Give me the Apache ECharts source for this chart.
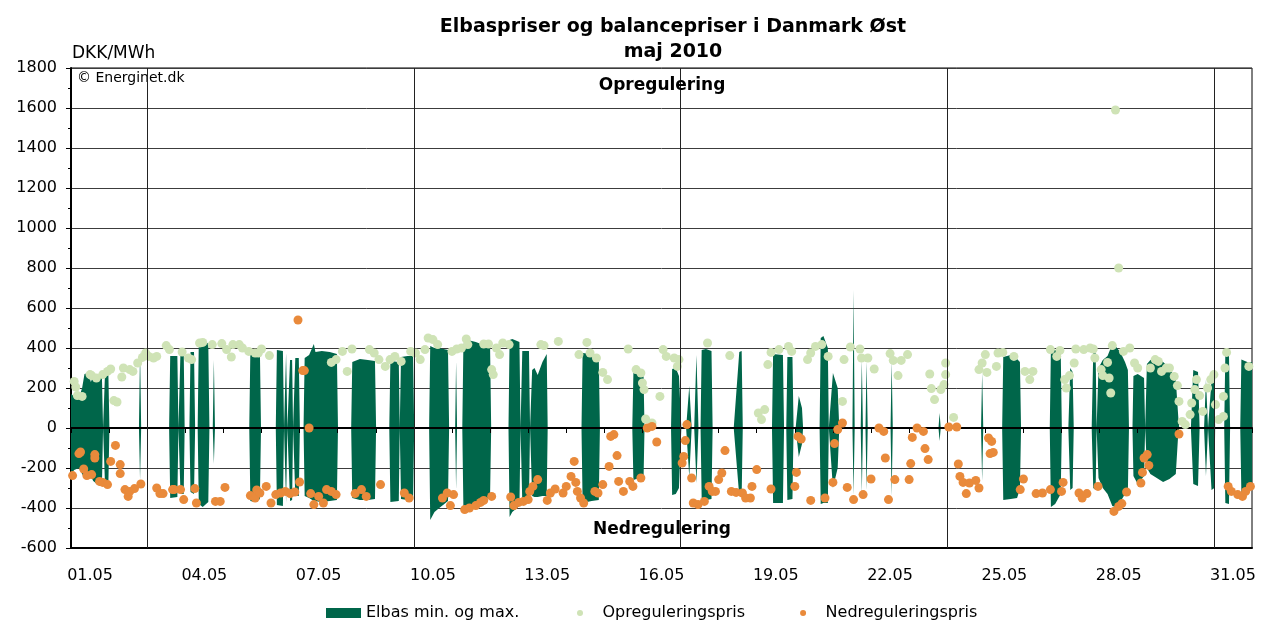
<!DOCTYPE html>
<html>
<head>
<meta charset="utf-8">
<title>Elbaspriser og balancepriser i Danmark Øst - maj 2010</title>
<script src="https://cdn.jsdelivr.net/npm/echarts@6.0.0/dist/echarts.min.js"></script>
<style>
  html, body { margin: 0; padding: 0; background: #fff; }
  #chart { width: 1262px; height: 626px; }
</style>
</head>
<body>
<div id="chart"></div>
<script>
// x = timer siden 01.05 kl. 00 (744 timer i maj)
var dayLabels = ['01.05','02.05','03.05','04.05','05.05','06.05','07.05','08.05','09.05','10.05',
  '11.05','12.05','13.05','14.05','15.05','16.05','17.05','18.05','19.05','20.05',
  '21.05','22.05','23.05','24.05','25.05','26.05','27.05','28.05','29.05','30.05','31.05'];
var weekStarts = [48, 216, 384, 552, 720];   // mandage

// Elbas min. og max. (0 = ingen handel)
var elbasHour = [
  0,2,5,7,8.5,11,12.5,14,18,19.5,20.2,20.8,21.5,23.5,24.2,
  42.8,43.5,44.2,
  61.8,62.5,67,67.7, 68.3,69,71,71.6,
  74.6,75.3,77.5,78.2, 79.8,80.5,83,86.5,87.2, 89.3,90,90.7,
  112.3,113,116,119,119.7,
  129,129.7,133.5,134.2, 134.7,135.5,136.3, 137.2,138,139.3,139.9, 140.6,141.3,143.5,144.2,
  146.5,147.2,150,153,154,158,163,167.5,168.2,
  176.5,177.2,182,187,191.5,192.2,
  200.5,201.2,206.5,207.1, 207.3,207.9,212,215.5,216.2,
  225.6,226.3,229,232,237.5,238.2,
  242,242.6,243.2, 246.5,247.2,250,255,260,264,264.7,
  275.6,276.3,278,282.5,283.2, 283.7,284.3,288.5,289.2, 289.8,290.5,292,294,297,299.7,300.3,
  321.6,322.3,328,332.5,333.2, 353.6,354.3,358,360.7,361.3,
  378,378.7,381,383,384.5, 387.5,389.5,391, 392.6,394,395.3, 396.6,397.3,400,403.5,404.2,
  417.5,421,422.5,423.2, 441.6,442.3,448.5,449.2, 450.6,451.3,454.5,455.2, 456.5,458.5,460.5,461.2,
  471.6,472.3,474,476.8,477.4, 478.5,480,483,484,
  492.3,493,493.7, 497.5,498.2,498.9, 500.5,501.2,501.9, 516.3,517,517.7,
  546.5,547.2,547.9, 573.3,574,574.7, 586.6,587.3,592,596,597.8,598.5,
  616.6,617.3,620,623.5,624.2, 628.3,629.5,631,631.7, 643,644,645.5,646.1,
  646.5,647.3,650,653,656,658,661,664,665.8,666.5,
  668.7,669.3,672,676,676.7, 677.2,677.8,680,684,688,692,696,697.6,698.2,
  705.5,707,710,711, 713.8,715,716.3, 717,718.5,720.3,720.8,
  726.5,727.2,729.5,730.2, 736.6,737.3,741,744
];
var elbasMax = [
  170,160,150,200,270,275,230,260,265,250,0,0,290,290,0,
  0,390,0,
  0,360,360,0, 0,390,390,0,
  0,380,380,0, 0,430,445,420,0, 0,340,0,
  0,390,385,390,0,
  0,390,385,0, 0,375,0, 0,340,340,0, 0,350,350,0,
  0,350,365,420,380,385,380,370,0,
  0,330,345,340,335,0,
  0,335,330,0, 0,355,360,360,0,
  0,410,400,400,390,0,
  0,333,0, 0,420,440,430,415,410,0,
  0,440,445,430,0, 0,385,385,0, 0,290,300,265,330,370,0,
  0,375,370,350,0, 0,275,270,260,0,
  0,295,300,260,0, 0,210,0, 0,365,0, 0,390,395,385,0,
  0,380,385,0, 0,370,365,0, 0,355,355,0, 0,160,100,0,
  0,450,460,400,0, 0,275,200,0,
  0,690,0, 0,340,0, 0,333,0, 0,333,0,
  0,75,0, 0,275,0, 0,355,365,345,330,0,
  0,390,390,385,0, 0,300,280,0, 0,380,380,0,
  0,300,340,360,420,410,380,330,290,0,
  0,260,270,250,0, 0,320,340,345,330,300,240,50,0,
  0,290,280,0, 0,240,0, 0,240,240,0,
  0,375,370,0, 0,342,330,330
];
var elbasMin = [
  -230,-210,-200,-230,-250,-250,-240,-265,-290,-280,0,0,-300,-300,0,
  0,-260,0,
  0,-350,-345,0, 0,-330,-330,0,
  0,-320,-330,0, 0,-380,-395,-370,0, 0,-180,0,
  0,-365,-370,-355,0,
  0,-385,-390,0, 0,-375,0, 0,-365,-360,0, 0,-340,-340,0,
  0,-340,-350,-365,-355,-370,-365,-360,0,
  0,-350,-360,-360,-355,0,
  0,-370,-365,0, 0,-355,-360,-360,0,
  0,-460,-420,-400,-365,0,
  0,-308,0, 0,-400,-395,-385,-370,-340,0,
  0,-445,-420,-390,0, 0,-370,-365,0, 0,-340,-345,-345,-340,-340,0,
  0,-375,-365,-360,0, 0,-260,-250,-250,0,
  0,-335,-330,-300,0, 0,-245,0, 0,-275,0, 0,-350,-360,-355,0,
  0,-340,-340,0, 0,-375,-375,0, 0,-360,-355,0, 0,-145,-80,0,
  0,-380,-375,-375,0, 0,-300,-200,0,
  0,-335,0, 0,-325,0, 0,-310,0, 0,-340,0,
  0,-65,0, 0,-265,0, 0,-360,-355,-350,-305,0,
  0,-395,-380,-330,0, 0,-310,-300,0, 0,-300,-310,0,
  0,-250,-300,-330,-390,-395,-370,-330,-320,0,
  0,-240,-280,-240,0, 0,-200,-230,-250,-270,-255,-230,-20,0,
  0,-280,-290,0, 0,-240,0, 0,-310,-300,0,
  0,-375,-380,0, 0,-325,-310,-300
];

// Opreguleringspris
var opHour = [
  2,3,4,7,12,13,16,20,23,25,27,29,32,33,37,39,42,45,47,49,52,54,60,62,70,74,76,81,83,89,95,98,101,102,106,108,112,116,
  118,120,125,164,167,171,174,177,188,191,194,198,201,204,208,214,217,220,223,225,228,231,240,
  243,246,249,250,260,263,265,266,268,270,272,276,296,298,307,320,325,327,331,335,338,351,356,359,360,361,362,
  366,371,373,375,380,382,383,401,415,433,435,437,439,441,446,452,454,464,466,469,473,477,486,487,
  491,497,498,502,506,516,518,521,523,527,541,542,544,548,550,551,551,556,572,574,576,577,583,584,587,594,601,604,606,
  617,621,623,626,627,629,632,633,638,642,644,645,649,650,653,654,655,656,658,660,663,667,670,672,680,
  683,685,687,690,692,695,697,698,700,702,705,706,708,709,711,713,716,718,720,721,723,726,726,727,728,742
];
var opPrice = [
  233,205,162,158,267,262,250,267,283,295,137,130,255,300,292,283,325,353,375,358,350,358,412,392,380,350,342,425,428,417,422,392,355,417,417,400,383,375,
  375,395,362,328,342,383,283,395,392,375,342,308,342,358,333,383,375,342,392,450,442,417,383,
  395,400,445,417,420,420,292,267,400,367,425,417,417,412,433,367,428,375,350,278,242,395,292,275,225,192,45,
  25,158,392,358,350,308,342,425,362,75,42,92,317,378,392,408,383,342,375,408,417,358,133,342,
  405,395,350,350,295,372,338,262,338,367,270,197,142,192,217,267,325,53,292,325,367,278,308,375,378,358,283,242,283,
  392,358,388,242,200,262,325,395,392,400,395,350,292,262,328,250,175,412,1590,800,383,400,325,300,300,
  342,333,283,300,300,258,212,133,33,17,67,125,192,242,162,83,200,242,267,117,42,58,158,300,378,308
];

// Nedreguleringspris
var nedHour = [
  1,5,6,8,10,13,15,15,18,20,23,25,28,31,31,34,36,37,40,44,54,56,58,64,65,69,71,78,79,91,94,97,113,116,
  117,119,123,126,129,132,135,138,141,143,144,146,147,150,151,153,156,159,161,164,167,179,183,186,195,210,213,234,237,239,
  241,248,251,255,258,260,265,277,279,282,285,288,289,291,294,300,302,305,310,312,315,317,318,319,321,323,330,332,335,339,340,342,344,345,348,352,354,359,363,
  366,369,385,386,387,388,391,392,395,399,402,404,406,408,410,412,416,419,423,425,428,429,432,441,456,457,458,460,466,475,480,481,483,486,
  489,493,499,504,509,512,513,515,519,528,529,530,533,537,538,540,553,558,559,560,562,564,566,570,572,578,579,580,581,598,600,608,
  612,617,624,625,635,637,640,647,657,660,662,665,674,675,676,678,679,698,729,731,735,738,740,743
];
var nedPrice = [
  -238,-128,-120,-205,-238,-233,-150,-133,-267,-272,-283,-167,-87,-183,-228,-308,-342,-317,-303,-280,-300,-328,-328,-308,-308,-308,-358,-303,-375,-367,-367,-297,-338,-350,
  -310,-325,-292,-375,-333,-325,-317,-328,-320,540,-270,287,287,0,-328,-383,-342,-375,-308,-317,-333,-328,-308,-342,-283,-325,-350,-350,-325,-388,
  -333,-408,-400,-388,-372,-362,-342,-345,-388,-372,-367,-358,-317,-292,-258,-362,-325,-305,-325,-292,-242,-167,-272,-317,-350,-375,-317,-325,-283,-192,-42,-33,-138,-267,-317,-267,-292,-250,0,
  8,-70,-175,-142,-63,17,-250,-375,-383,-367,-292,-317,-317,-258,-225,-113,-317,-322,-325,-350,-350,-292,-208,-305,-292,-222,-42,-55,-362,-350,-272,-78,-8,25,
  -297,-358,-333,-255,0,-17,-150,-358,-258,-258,-178,-47,0,-17,-103,-158,5,5,-180,-242,-272,-328,-275,-262,-300,-50,-128,-67,-122,-308,-255,-328,
  -325,-308,-317,-272,-325,-350,-328,-292,-417,-392,-378,-320,-275,-222,-150,-133,-187,-30,-292,-317,-333,-342,-317,-292
];

var font = 'DejaVu Sans, Verdana, sans-serif';
var elbasColor = '#00664a';
var opColor = '#cfe3b6';
var nedColor = '#e98a3b';

function pairs(xs, ys) {
  return xs.map(function (x, i) { return [x, ys[i]]; });
}

var chart = echarts.init(document.getElementById('chart'));
var option = {
  animation: false,
  backgroundColor: '#fff',
  title: {
    text: 'Elbaspriser og balancepriser i Danmark Øst\nmaj 2010',
    left: 668,
    top: 10,
    textAlign: 'center',
    textStyle: { fontFamily: font, fontSize: 19, fontWeight: 'bold', color: '#000', lineHeight: 25 }
  },
  grid: { left: 71, right: 10, top: 68, bottom: 78, show: true, borderColor: '#000', borderWidth: 1 },
  legend: [{
    data: ['Elbas min. og max.'],
    left: 321, top: 600,
    icon: 'rect', itemWidth: 35, itemHeight: 10,
    textStyle: { fontFamily: font, fontSize: 16, color: '#000' }
  }, {
    data: ['Opreguleringspris', 'Nedreguleringspris'],
    left: 572, top: 600,
    icon: 'circle', itemWidth: 35, itemHeight: 6, itemGap: 55,
    textStyle: { fontFamily: font, fontSize: 16, color: '#000' }
  }],
  xAxis: [{
    type: 'category',
    data: dayLabels,
    position: 'bottom',
    axisLine: { onZero: false, lineStyle: { color: '#000', width: 2 } },
    axisTick: { show: false },
    axisLabel: { interval: 2, margin: 20, fontFamily: font, fontSize: 16, color: '#000' },
    splitLine: { show: false }
  }, {
    type: 'value',
    min: 0, max: 744, interval: 24,
    position: 'bottom',
    z: 3,
    axisLine: { onZero: true, lineStyle: { color: '#000', width: 2 } },
    axisTick: { show: true, length: 5, lineStyle: { color: '#000', width: 1 } },
    axisLabel: { show: false },
    splitLine: { show: false }
  }],
  yAxis: {
    type: 'value',
    min: -600, max: 1800, interval: 200,
    axisLine: { show: true, onZero: false, lineStyle: { color: '#000', width: 2 } },
    axisTick: { show: true, length: 5, lineStyle: { color: '#000' } },
    minorTick: { show: true, splitNumber: 2, length: 3, lineStyle: { color: '#000' } },
    axisLabel: {
      margin: 14, fontFamily: font, fontSize: 16, color: '#000',
      formatter: function (v) { return String(v); }
    },
    splitLine: { lineStyle: { color: '#3c3c3c', width: 1 } }
  },
  graphic: [
    { type: 'text', left: 72, top: 45, style: { text: 'DKK/MWh', font: '17px ' + font, fill: '#000' } },
    { type: 'text', left: 77, top: 71, style: { text: '© Energinet.dk', font: '14px ' + font, fill: '#000' } },
    { type: 'text', x: 662, y: 86, style: { text: 'Opregulering', font: 'bold 17px ' + font, fill: '#000', textAlign: 'center', textVerticalAlign: 'middle' }, z: 10 },
    { type: 'text', x: 662, y: 530, style: { text: 'Nedregulering', font: 'bold 17px ' + font, fill: '#000', textAlign: 'center', textVerticalAlign: 'middle' }, z: 10 }
  ],
  series: [{
    name: 'Elbas min. og max.',
    type: 'line',
    xAxisIndex: 1,
    data: pairs(elbasHour, elbasMax),
    symbol: 'none',
    silent: true,
    z: 2,
    color: elbasColor,
    lineStyle: { width: 0 },
    areaStyle: { color: elbasColor, opacity: 1 },
    markLine: {
      silent: true,
      symbol: ['none', 'none'],
      label: { show: false },
      lineStyle: { color: '#222', width: 1, type: 'solid' },
      data: weekStarts.map(function (h) { return { xAxis: h }; })
    }
  }, {
    name: 'Elbas min. og max.',
    type: 'line',
    xAxisIndex: 1,
    data: pairs(elbasHour, elbasMin),
    symbol: 'none',
    silent: true,
    z: 2,
    color: elbasColor,
    lineStyle: { width: 0 },
    areaStyle: { color: elbasColor, opacity: 1 }
  }, {
    name: 'Opreguleringspris',
    type: 'scatter',
    xAxisIndex: 1,
    data: pairs(opHour, opPrice),
    symbolSize: 9,
    z: 4,
    itemStyle: { color: opColor, opacity: 1 }
  }, {
    name: 'Nedreguleringspris',
    type: 'scatter',
    xAxisIndex: 1,
    data: pairs(nedHour, nedPrice),
    symbolSize: 9,
    z: 5,
    itemStyle: { color: nedColor, opacity: 1 }
  }]
};
chart.setOption(option);
</script>
</body>
</html>
